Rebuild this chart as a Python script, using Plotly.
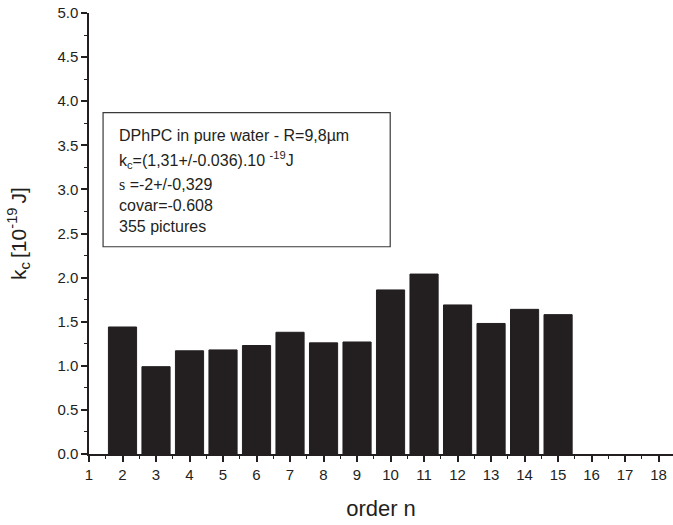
import plotly.graph_objects as go

orders = [2, 3, 4, 5, 6, 7, 8, 9, 10, 11, 12, 13, 14, 15]
kc_values = [1.44, 0.99, 1.17, 1.18, 1.23, 1.38, 1.26, 1.27, 1.86, 2.04, 1.69, 1.48, 1.64, 1.58]
x_ticks = list(range(1, 19))
y_ticks = [0.0, 0.5, 1.0, 1.5, 2.0, 2.5, 3.0, 3.5, 4.0, 4.5, 5.0]
info_lines = [
    "DPhPC in pure water - R=9,8µm",
    "k<sub>c</sub>=(1,31+/-0.036).10 <sup>-19</sup>J",
    "<span style=\"font-family:'Liberation Serif',serif\">s</span> =-2+/-0,329",
    "covar=-0.608",
    "355 pictures",
]

FONT = "Liberation Sans, Arial, sans-serif"
DARK = "#231f20"

fig = go.Figure()
fig.add_trace(go.Bar(
    x=orders, y=kc_values, width=0.84,
    marker=dict(color=DARK, line=dict(color=DARK, width=1)),
    showlegend=False, hoverinfo="skip",
))

fig.update_layout(
    width=673, height=525,
    margin=dict(l=89, r=0, t=13, b=71),
    paper_bgcolor="white", plot_bgcolor="white",
    font=dict(family=FONT, size=15, color="#231f20"),
    xaxis=dict(
        range=[1, 18.43], tickmode="array", tickvals=x_ticks,
        ticktext=[str(v) for v in x_ticks],
        ticks="outside", ticklen=6, tickwidth=1.5, tickcolor=DARK,
        minor=dict(ticks="outside", ticklen=3, tickwidth=1.2, dtick=0.5, tick0=1, tickcolor=DARK),
        showline=True, linecolor=DARK, linewidth=1.5,
        showgrid=False, zeroline=False,
        title=dict(text="order n", font=dict(size=22), standoff=19),
        tickfont=dict(size=15),
        automargin=False,
    ),
    yaxis=dict(
        range=[0, 5.0], tickmode="array", tickvals=y_ticks,
        ticktext=["%.1f" % v for v in y_ticks],
        ticks="outside", ticklen=6, tickwidth=1.5, tickcolor=DARK,
        minor=dict(ticks="outside", ticklen=3, tickwidth=1.2, dtick=0.25, tick0=0, tickcolor=DARK),
        showline=True, linecolor=DARK, linewidth=1.5,
        showgrid=False, zeroline=False,
        title=dict(text="k<sub>c </sub>[10<sup>-19 </sup>J]", font=dict(size=21), standoff=25),
        tickfont=dict(size=15),
        automargin=False,
    ),
)

# information box
fig.add_shape(type="rect", xref="x", yref="y", x0=1.42, x1=9.99, y0=2.35, y1=3.87,
              line=dict(color="#3a3a3a", width=1.2), fillcolor="rgba(0,0,0,0)")
line_y = [3.61, 3.33, 3.06, 2.82, 2.58]
for txt, yy in zip(info_lines, line_y):
    fig.add_annotation(x=1.836, y=yy, xref="x", yref="y", text=txt, showarrow=False,
                       xanchor="left", yanchor="middle", font=dict(size=16, family=FONT, color=DARK))

fig.write_html("out.html", config={"displayModeBar": False},
               post_script="document.body.style.margin='0';document.body.style.overflow='hidden';")
